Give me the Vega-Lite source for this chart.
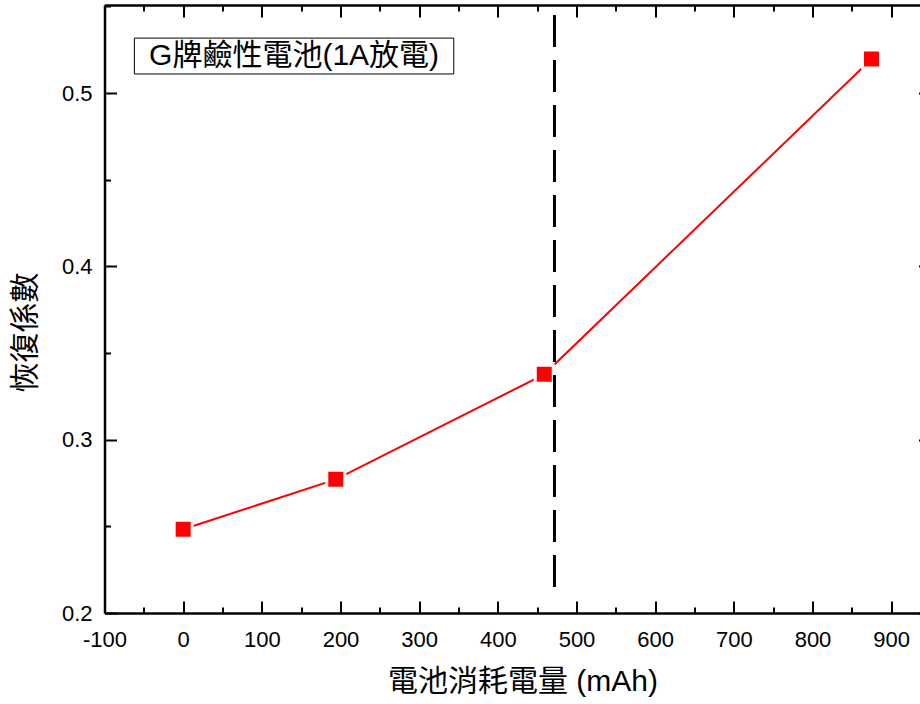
{
  "$schema": "https://vega.github.io/schema/vega-lite/v6.json",
  "autosize": {"type": "none"},
  "padding": {"left": 104.5, "top": 5, "right": 0, "bottom": 91},
  "width": 826,
  "height": 608,
  "background": "white",
  "config": {
    "view": {"stroke": null},
    "axis": {
      "domainColor": "black", "domainWidth": 2.5,
      "tickColor": "black", "tickWidth": 2,
      "grid": false,
      "labelColor": "black", "labelFont": "Liberation Sans", "labelFontSize": 22,
      "titleColor": "black", "titleFontWeight": "normal"
    }
  },
  "datasets": {
    "pts": [
      {"mAh": 0, "coef": 0.2483},
      {"mAh": 194, "coef": 0.2771},
      {"mAh": 459, "coef": 0.3377},
      {"mAh": 875, "coef": 0.5196}
    ],
    "vline": [{"x": 472, "y1": 0.545, "y2": 0.213}],
    "box": [{"x1": -62, "x2": 344, "y1": 0.5317, "y2": 0.511, "xc": 141, "yc": 0.5214, "label": "G牌鹼性電池(1A放電)"}]
  },
  "layer": [
    {
      "data": {"name": "pts"},
      "mark": {"type": "line", "color": "#ff0000", "strokeWidth": 2},
      "encoding": {
        "x": {"field": "mAh", "type": "quantitative",
          "scale": {"domain": [-100, 950], "nice": false, "zero": false},
          "axis": {"orient": "bottom", "values": [-100, 0, 100, 200, 300, 400, 500, 600, 700, 800, 900],
            "labelExpr": "datum.value < 0 ? '-' + abs(datum.value) : '' + datum.value",
            "tickSize": -12, "labelPadding": 28.5, "labelFlush": false, "labelOverlap": false,
            "title": "電池消耗電量 (mAh)", "titleFont": "Liberation Sans, Noto Sans CJK TC", "titleFontSize": 30,
            "titleX": 418, "titleY": 68, "titleAlign": "center", "titleBaseline": "middle", "titleAnchor": null}},
        "y": {"field": "coef", "type": "quantitative",
          "scale": {"domain": [0.2, 0.5508], "nice": false, "zero": false},
          "axis": {"orient": "left", "values": [0.2, 0.3, 0.4, 0.5], "format": ".1f",
            "tickSize": -12, "labelPadding": 24.5, "labelFlush": false, "labelOverlap": false,
            "title": "恢復係數", "titleFont": "Noto Sans CJK TC", "titleFontSize": 30,
            "titleX": -79, "titleY": 327, "titleAngle": 270, "titleAlign": "center", "titleBaseline": "middle"}}
      }
    },
    {
      "data": {"name": "pts"},
      "mark": {"type": "point", "shape": "square", "filled": true, "color": "#ff0000", "size": 324, "stroke": "white", "strokeWidth": 3, "opacity": 1},
      "encoding": {
        "x": {"field": "mAh", "type": "quantitative",
          "axis": {"orient": "bottom", "values": [-50, 50, 150, 250, 350, 450, 550, 650, 750, 850, 950],
            "tickSize": -6, "labels": false, "domain": false, "title": null}},
        "y": {"field": "coef", "type": "quantitative",
          "axis": {"orient": "left", "values": [0.25, 0.35, 0.45, 0.55],
            "tickSize": -6, "labels": false, "domain": false, "title": null}}
      }
    },
    {
      "data": {"name": "vline"},
      "mark": {"type": "rule", "color": "black", "strokeWidth": 3, "strokeDash": [32, 13]},
      "encoding": {
        "x": {"field": "x", "type": "quantitative",
          "axis": {"orient": "top", "values": [-100, 0, 100, 200, 300, 400, 500, 600, 700, 800, 900],
            "tickSize": -12, "labels": false, "title": null}},
        "y": {"field": "y1", "type": "quantitative",
          "axis": {"orient": "right", "values": [0.2, 0.3, 0.4, 0.5],
            "tickSize": -12, "labels": false, "title": null}},
        "y2": {"field": "y2"}
      }
    },
    {
      "data": {"name": "box"},
      "mark": {"type": "rect", "fill": "white", "stroke": "black", "strokeWidth": 1},
      "encoding": {
        "x": {"field": "x1", "type": "quantitative",
          "axis": {"orient": "top", "values": [-50, 50, 150, 250, 350, 450, 550, 650, 750, 850, 950],
            "tickSize": -6, "labels": false, "domain": false, "title": null}},
        "x2": {"field": "x2"},
        "y": {"field": "y1", "type": "quantitative",
          "axis": {"orient": "right", "values": [0.25, 0.35, 0.45, 0.55],
            "tickSize": -6, "labels": false, "domain": false, "title": null}},
        "y2": {"field": "y2"}
      }
    },
    {
      "data": {"name": "box"},
      "mark": {"type": "text", "font": "Liberation Sans, Noto Sans CJK TC", "fontSize": 30, "color": "black", "align": "center", "baseline": "middle"},
      "encoding": {
        "x": {"field": "xc", "type": "quantitative", "axis": null},
        "y": {"field": "yc", "type": "quantitative", "axis": null},
        "text": {"field": "label"}
      }
    }
  ],
  "resolve": {"axis": {"x": "independent", "y": "independent"}}
}
